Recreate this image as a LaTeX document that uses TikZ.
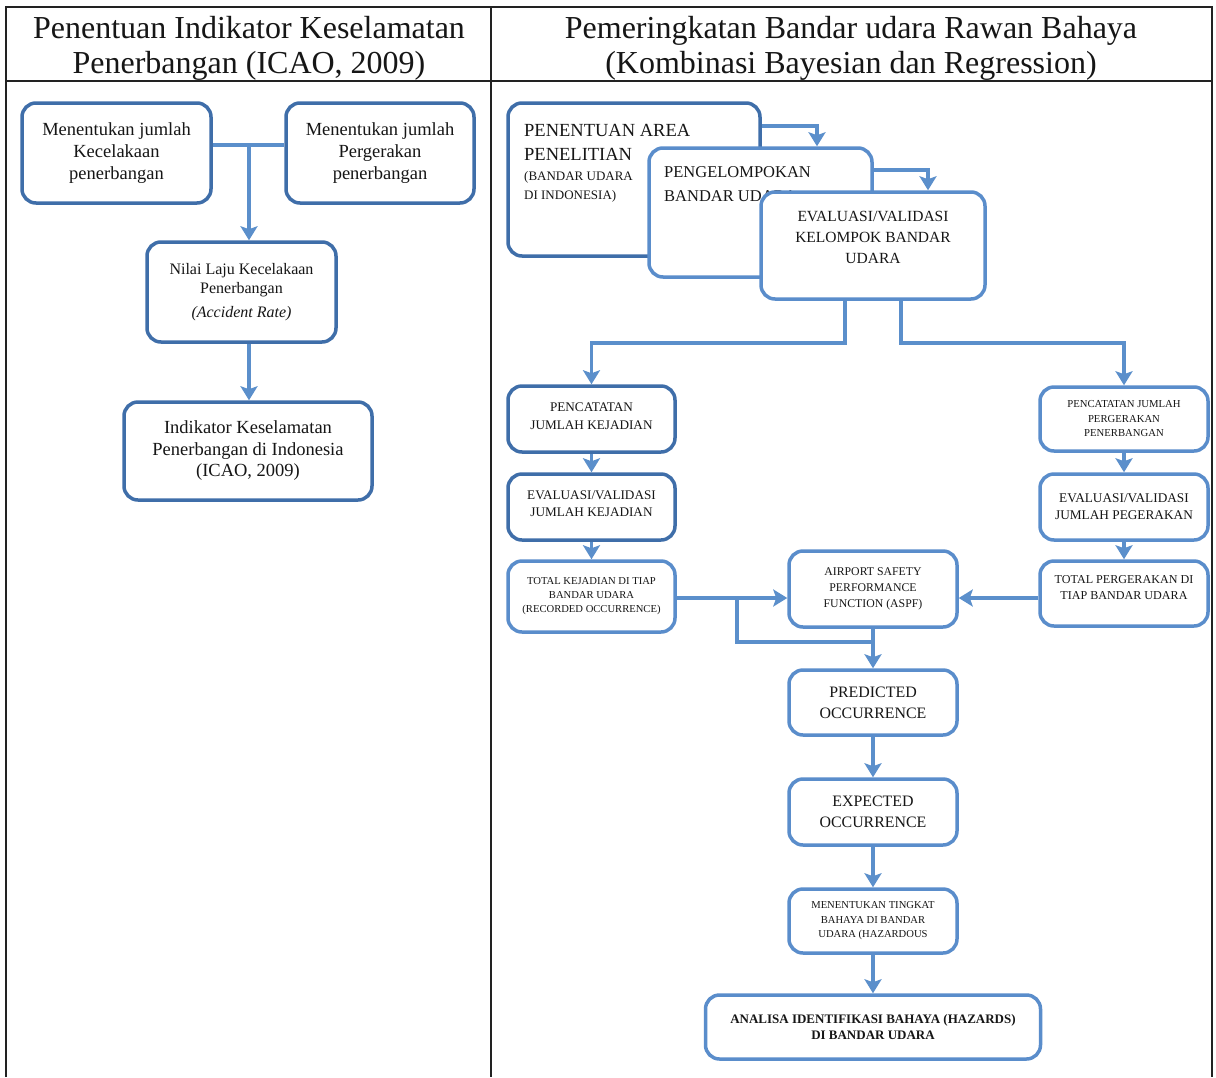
\documentclass[tikz,border=0pt]{standalone}
\usepackage{fontspec}
\setmainfont{Liberation Serif}
\usetikzlibrary{arrows.meta}
\definecolor{bxd}{HTML}{3F6EA9}
\definecolor{bxl}{HTML}{5A8DCB}
\definecolor{lnc}{HTML}{5B8FCB}
\definecolor{txt}{HTML}{161616}
\definecolor{tbl}{HTML}{222222}
\newcommand{\fs}[2]{\fontsize{#1}{#2}\selectfont}
\begin{document}
\begin{tikzpicture}[x=1pt,y=-1pt,
  box/.style={draw=bxl, line width=3.5pt, rounded corners=14pt, fill=white, inner sep=0pt, align=center, text=txt},
  dbox/.style={box, draw=bxd},
  lbl/.style={inner sep=0pt, text=txt, align=left},
  conn/.style={draw=lnc, line width=3.5pt},
  arr/.style={conn, -{Stealth[width=17pt,length=14pt,inset=3pt]}},
  tline/.style={draw=tbl, line width=2.5pt}]
\useasboundingbox (0,0) rectangle (1216,1077);
\fill[white] (0,0) rectangle (1216,1077);
% table
\draw[tline] (6,1077) -- (6,7) -- (1212,7) -- (1212,1077);
\draw[tline] (6,81) -- (1212,81);
\draw[tline] (491,7) -- (491,1077);
\node[lbl, align=center, font=\fs{32}{35}] (h1) at (249,48) {Penentuan Indikator Keselamatan\\Penerbangan (ICAO, 2009)};
\node[lbl, align=center, font=\fs{32}{35}] (h2) at (851,48) {Pemeringkatan Bandar udara Rawan Bahaya\\(Kombinasi Bayesian dan Regression)};
% left column
\node[dbox, minimum width=189, minimum height=100, font=\fs{18.5}{22}] (b1) at (116.5,153) {Menentukan jumlah\\Kecelakaan\\penerbangan};
\node[dbox, minimum width=188, minimum height=100, font=\fs{18.5}{22}] (b2) at (380,153) {Menentukan jumlah\\Pergerakan\\penerbangan};
\node[dbox, minimum width=189, minimum height=100, font=\fs{16}{19.5}] (b3) at (241.5,292) {Nilai Laju Kecelakaan\\Penerbangan\\[4pt]\textit{(Accident Rate)}};
\node[dbox, minimum width=248, minimum height=98, font=\fs{18.5}{21.5}] (b4) at (248,451) {Indikator Keselamatan\\Penerbangan di Indonesia\\(ICAO, 2009)};
\coordinate (j1) at (249,145);
\draw[conn] (b1.east |- j1) -- (b2.west |- j1);
\draw[arr] (j1) -- (j1 |- b3.north);
\draw[arr] (j1 |- b3.south) -- (j1 |- b4.north);
% right column top
\node[dbox, minimum width=252, minimum height=153] (A) at (634,179.5) {};
\node[lbl, anchor=north west, font=\fs{18.5}{24}] (At1) at (524,124) {PENENTUAN AREA\\PENELITIAN};
\node[lbl, anchor=north west, font=\fs{13}{19.5}] (At2) at (524,171) {(BANDAR UDARA\\DI INDONESIA)};
\node[box, minimum width=223, minimum height=129] (B) at (760.5,212.5) {};
\node[lbl, anchor=north west, font=\fs{16.5}{24}] (Bt) at (664,166) {PENGELOMPOKAN\\BANDAR UDARA};
\node[box, minimum width=224, minimum height=107] (C) at (873,245.5) {};
\node[lbl, align=center, font=\fs{15.5}{21}] (Ct) at (873,237) {EVALUASI/VALIDASI\\KELOMPOK BANDAR\\UDARA};
\coordinate (ab) at (817,126);
\coordinate (bc) at (928,170);
\draw[arr] (A.east |- ab) -- (ab) -- (ab |- B.north);
\draw[arr] (B.east |- bc) -- (bc) -- (bc |- C.north);
% branches
\node[dbox, minimum width=167, minimum height=66] (D) at (591.5,419) {};
\node[lbl, align=center, font=\fs{13.2}{18}] (Dt) at (591.5,416) {PENCATATAN\\JUMLAH KEJADIAN};
\node[dbox, minimum width=167, minimum height=66] (E) at (591.5,507) {};
\node[lbl, align=center, font=\fs{13.2}{17}] (Et) at (591.5,504) {EVALUASI/VALIDASI\\JUMLAH KEJADIAN};
\node[box, minimum width=167, minimum height=71, font=\fs{10.6}{14}] (F) at (591.5,596.5) {TOTAL KEJADIAN DI TIAP\\BANDAR UDARA\\(RECORDED OCCURRENCE)};
\node[box, minimum width=168, minimum height=64, font=\fs{10.7}{14.5}] (G) at (1124,419) {PENCATATAN JUMLAH\\PERGERAKAN\\PENERBANGAN};
\node[box, minimum width=168, minimum height=66, font=\fs{13.3}{17}] (H) at (1124,507) {EVALUASI/VALIDASI\\JUMLAH PEGERAKAN};
\node[box, minimum width=168, minimum height=65] (I) at (1124,593.5) {};
\node[lbl, align=center, font=\fs{12.1}{16}] (It) at (1124,588) {TOTAL PERGERAKAN DI\\TIAP BANDAR UDARA};
\coordinate (cl) at (845,343);
\coordinate (cr) at (901,343);
\draw[arr] (cl |- C.south) -- (cl) -- (D.north |- cl) -- (D.north);
\draw[arr] (cr |- C.south) -- (cr) -- (G.north |- cr) -- (G.north);
\draw[arr] (D.south) -- (E.north);
\draw[arr] (E.south) -- (F.north);
\draw[arr] (G.south) -- (H.north);
\draw[arr] (H.south) -- (I.north);
% centre chain
\node[box, minimum width=168, minimum height=76, font=\fs{11.8}{16}] (J) at (873,589) {AIRPORT SAFETY\\PERFORMANCE\\FUNCTION (ASPF)};
\node[box, minimum width=168, minimum height=65, font=\fs{15.9}{21}] (K) at (873,702.5) {PREDICTED\\OCCURRENCE};
\node[box, minimum width=168, minimum height=66, font=\fs{15.9}{21}] (L) at (873,812) {EXPECTED\\OCCURRENCE};
\node[box, minimum width=168, minimum height=64, font=\fs{10.6}{14.5}] (M) at (873,921) {MENENTUKAN TINGKAT\\BAHAYA DI BANDAR\\UDARA (HAZARDOUS};
\node[box, minimum width=335, minimum height=64, font=\bfseries\fs{13}{16}] (N) at (873,1027) {ANALISA IDENTIFIKASI BAHAYA (HAZARDS)\\DI BANDAR UDARA};
\coordinate (fj) at (737,598);
\coordinate (fk) at (737,642);
\draw[arr] (F.east |- fj) -- (J.west |- fj);
\draw[arr] (I.west |- fj) -- (J.east |- fj);
\draw[conn] (fj) -- (fk) -- (J.south |- fk);
\draw[arr] (J.south) -- (K.north);
\draw[arr] (K.south) -- (L.north);
\draw[arr] (L.south) -- (M.north);
\draw[arr] (M.south) -- (N.north);
\end{tikzpicture}
\end{document}
